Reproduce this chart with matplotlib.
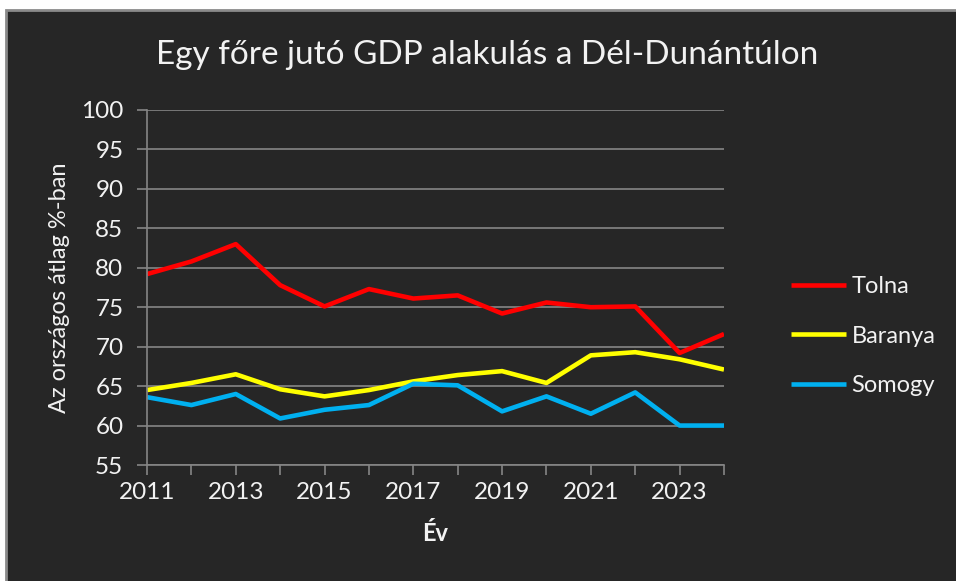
import matplotlib.pyplot as plt
from matplotlib.patches import Rectangle

plt.rcParams["font.family"] = ["Lato", "DejaVu Sans"]

# Data
years = list(range(2011, 2025))
tolna = [79.2, 80.8, 83.0, 77.8, 75.1, 77.3, 76.1, 76.5, 74.2, 75.6, 75.0, 75.1, 69.2, 71.6]
baranya = [64.5, 65.4, 66.5, 64.6, 63.7, 64.5, 65.6, 66.4, 66.9, 65.4, 68.9, 69.3, 68.4, 67.1]
somogy = [63.6, 62.6, 64.0, 60.9, 62.0, 62.6, 65.3, 65.1, 61.8, 63.7, 61.5, 64.2, 60.0, 60.0]
series_names = ["Tolna", "Baranya", "Somogy"]
series_colors = ["#FF0000", "#FFFF00", "#00B0F0"]

bg = "#262626"
grid = "#858585"
txt = "#F2F2F2"

fig = plt.figure(figsize=(9.56, 5.81), dpi=100, facecolor="white")
# dark chart area with a grey frame on the top and left, white strip outside it
frame = Rectangle((6 / 956, -0.05), 1.1, 1 - 10 / 581 + 0.05,
                  transform=fig.transFigure, facecolor=bg,
                  edgecolor="#8a8a8a", linewidth=2, zorder=-10)
fig.add_artist(frame)

ax = fig.add_axes([147 / 956, 1 - 465 / 581, (724 - 147) / 956, (465 - 110) / 581])
ax.set_facecolor(bg)

for vals, name, col in zip([tolna, baranya, somogy], series_names, series_colors):
    ax.plot(years, vals, color=col, linewidth=3.3, label=name, solid_capstyle="butt")

ax.set_xlim(2011, 2024)
ax.set_ylim(55, 100)
ax.set_yticks(range(55, 101, 5))
ax.set_xticks(years, minor=True)
ax.set_xticks(range(2011, 2024, 2))

ax.grid(axis="y", color=grid, linewidth=1.2)
ax.set_axisbelow(True)
for s in ["top", "right"]:
    ax.spines[s].set_visible(False)
for s in ["left", "bottom"]:
    ax.spines[s].set_color(grid)
    ax.spines[s].set_linewidth(1.2)

ax.tick_params(axis="both", colors=grid, labelcolor=txt, labelsize=17.5, length=7, width=1.2)
ax.tick_params(axis="x", which="minor", colors=grid, length=7, width=1.2)
ax.tick_params(axis="x", pad=5)
ax.tick_params(axis="y", pad=10)

ax.set_xlabel("Év", color=txt, fontsize=17, fontweight="bold", labelpad=14)
ax.set_ylabel("Az országos átlag %-ban", color=txt, fontsize=17, labelpad=8)
fig.text(487 / 956, 1 - 55 / 581, "Egy főre jutó GDP alakulás a Dél-Dunántúlon",
         color=txt, fontsize=24, ha="center", va="center")

leg = ax.legend(loc="center left", bbox_to_anchor=(1.08, 0.363), frameon=False,
                fontsize=17, handlelength=2.3, handletextpad=0.25, labelspacing=1.2)
for t in leg.get_texts():
    t.set_color(txt)

fig.savefig("out.png", dpi=100, facecolor="white")
